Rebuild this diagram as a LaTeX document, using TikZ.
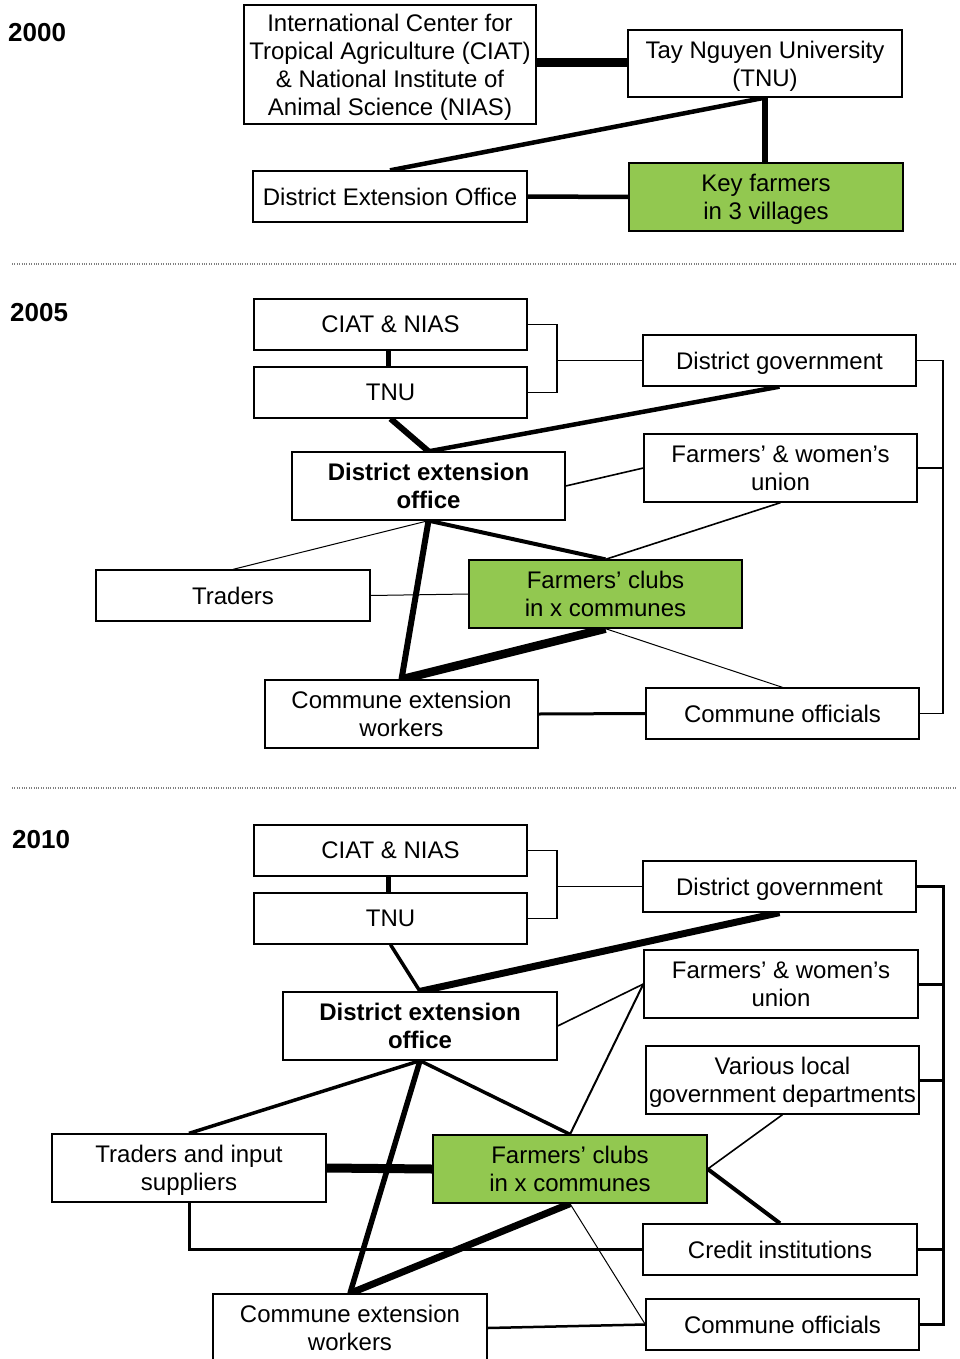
\documentclass[tikz,border=0pt]{standalone}
\usepackage{fontspec}
\setmainfont{Liberation Sans}
\usepackage{tikz}
\usetikzlibrary{calc, backgrounds}
\definecolor{clubgreen}{RGB}{146,200,80}

\begin{document}
\begin{tikzpicture}[x=1pt, y=-1pt,
        org/.style={draw, line width=1.3pt, fill=white, inner sep=0pt, align=center, text depth=0pt,
            minimum width=273pt, minimum height=51pt, font=\fontsize{24}{28}\selectfont},
        tall/.style={org, minimum height=68pt},
        club/.style={tall, fill=clubgreen},
        year/.style={anchor=west, inner sep=0pt, font=\fontsize{26}{30}\selectfont\bfseries},
        tieA/.style={line width=1pt},
        tieB/.style={line width=1.6pt},
        tieC/.style={line width=3pt},
        tieD/.style={line width=4.5pt},
        tieE/.style={line width=6pt},
        tieF/.style={line width=8.5pt},
        sep/.style={gray, line width=1.2pt, dash pattern=on 1pt off 1.4pt}]
        \useasboundingbox (0,0) rectangle (959,1359);

        \node[year] (yA) at (8,33) {2000};
        \node[org, minimum width=292pt, minimum height=119pt] (ciatA) at (390,64.5)
            {International Center for\\Tropical Agriculture (CIAT)\\\& National Institute of\\Animal Science (NIAS)};
        \node[org, minimum width=274pt, minimum height=67pt] (tnuA) at (765,63.5) {Tay Nguyen University\\(TNU)};
        \node[org, minimum width=274pt] (deoA) at (390,196.5) {District Extension Office};
        \node[club, minimum width=274pt] (kfA) at (766,197) {Key farmers\\in 3 villages};
        \begin{scope}[on background layer]
            \draw[line width=9pt] (ciatA.east |- 0,63) -- (tnuA.west |- 0,63);
            \draw[tieD] (tnuA.south) -- (deoA.north);
            \draw[tieE] (tnuA.south) -- (tnuA.south |- kfA.north);
            \draw[tieD] (deoA.east) -- (kfA.west);
        \end{scope}

        \draw[sep] (12,264) -- (957,264);

        \node[year] (yB) at (10,313) {2005};
        \node[org] (ciatB) at (390.5,324.5) {CIAT \& NIAS};
        \node[org] (tnuB) at (390.5,392.5) {TNU};
        \node[org] (dgB) at (779.5,360.5) {District government};
        \node[tall] (fwuB) at (780.5,468) {Farmers’ \& women’s\\union};
        \node[tall, font=\fontsize{24}{28}\selectfont\bfseries] (deoB) at (428.5,486) {District extension\\office};
        \node[org, minimum width=274pt] (trB) at (233,595.5) {Traders};
        \node[club] (fcB) at (605.5,594) {Farmers’ clubs\\in x communes};
        \node[tall] (cewB) at (401.5,714) {Commune extension\\workers};
        \node[org] (coB) at (782.5,713.5) {Commune officials};
        \coordinate (jB) at (557,360.5);
        \coordinate (kB) at (943,360.5);
        \begin{scope}[on background layer]
            \draw[line width=5pt] (ciatB.south -| 388,0) -- (tnuB.north -| 388,0);
            \draw[tieB] (ciatB.east) -| (jB) |- (tnuB.east);
            \draw[tieB] (jB) -- (dgB.west);
            \draw[tieB] (dgB.east) -- (kB) |- (coB.east);
            \draw[tieB] (fwuB.east) -- (fwuB.east -| kB);
            \draw[tieE] (tnuB.south) -- (deoB.north);
            \draw[tieD] (dgB.south) -- (deoB.north);
            \draw[tieB] (deoB.east) -- (fwuB.west);
            \draw[tieA] (deoB.south) -- (trB.north);
            \draw[line width=4pt] (deoB.south) -- (fcB.north);
            \draw[tieE] (deoB.south) -- (cewB.north);
            \draw[tieB] (fwuB.south) -- (fcB.north);
            \draw[tieA] (trB.east) -- (fcB.west);
            \draw[tieF] (fcB.south) -- (cewB.north);
            \draw[tieA] (fcB.south) -- (coB.north);
            \draw[tieC] (cewB.east) -- (coB.west);
        \end{scope}

        \draw[sep] (12,788) -- (957,788);

        \node[year] (yC) at (12,840) {2010};
        \node[org] (ciatC) at (390.5,850.5) {CIAT \& NIAS};
        \node[org] (tnuC) at (390.5,918.5) {TNU};
        \node[org] (dgC) at (779.5,886.5) {District government};
        \node[tall, minimum width=274pt] (fwuC) at (781,984) {Farmers’ \& women’s\\union};
        \node[tall] (vlgC) at (782.5,1080) {Various local\\government departments};
        \node[tall, minimum width=274pt, font=\fontsize{24}{28}\selectfont\bfseries] (deoC) at (420,1026) {District extension\\office};
        \node[tall, minimum width=274pt] (trC) at (189,1168) {Traders and input\\suppliers};
        \node[club, minimum width=274pt] (fcC) at (570,1169) {Farmers’ clubs\\in x communes};
        \node[org, minimum width=274pt] (ciC) at (780,1249.5) {Credit institutions};
        \node[org] (coC) at (782.5,1324.5) {Commune officials};
        \node[tall, minimum width=274pt] (cewC) at (350,1328) {Commune extension\\workers};
        \coordinate (jC) at (557,886.5);
        \coordinate (kC) at (943,886.5);
        \begin{scope}[on background layer]
            \draw[line width=5pt] (ciatC.south -| 388,0) -- (tnuC.north -| 388,0);
            \draw[tieB] (ciatC.east) -| (jC) |- (tnuC.east);
            \draw[tieB] (jC) -- (dgC.west);
            \draw[tieC] (dgC.east) -- (kC) |- (coC.east);
            \draw[tieC] (fwuC.east) -- (fwuC.east -| kC);
            \draw[tieC] (vlgC.east) -- (vlgC.east -| kC);
            \draw[tieC] (ciC.east) -- (ciC.east -| kC);
            \draw[line width=3.5pt] (tnuC.south) -- (deoC.north);
            \draw[line width=7pt] (dgC.south) -- (deoC.north);
            \draw[tieB] (deoC.east) -- (fwuC.west);
            \draw[line width=2pt] (fwuC.west) -- (fcC.north);
            \draw[line width=3.5pt] (deoC.south) -- (trC.north);
            \draw[line width=3.5pt] (deoC.south) -- (fcC.north);
            \draw[line width=5.5pt] (deoC.south) -- (cewC.north);
            \draw[line width=9pt] (trC.east) -- (fcC.west);
            \draw[tieB] (fcC.east) -- (vlgC.south);
            \draw[line width=4pt] (fcC.east) -- (ciC.north);
            \draw[line width=7pt] (fcC.south) -- (cewC.north);
            \draw[tieA] (fcC.south) -- (coC.west);
            \draw[tieC] (trC.south) |- (ciC.west);
            \draw[line width=2.5pt] (cewC.east) -- (coC.west);
        \end{scope}
\end{tikzpicture}
\end{document}
